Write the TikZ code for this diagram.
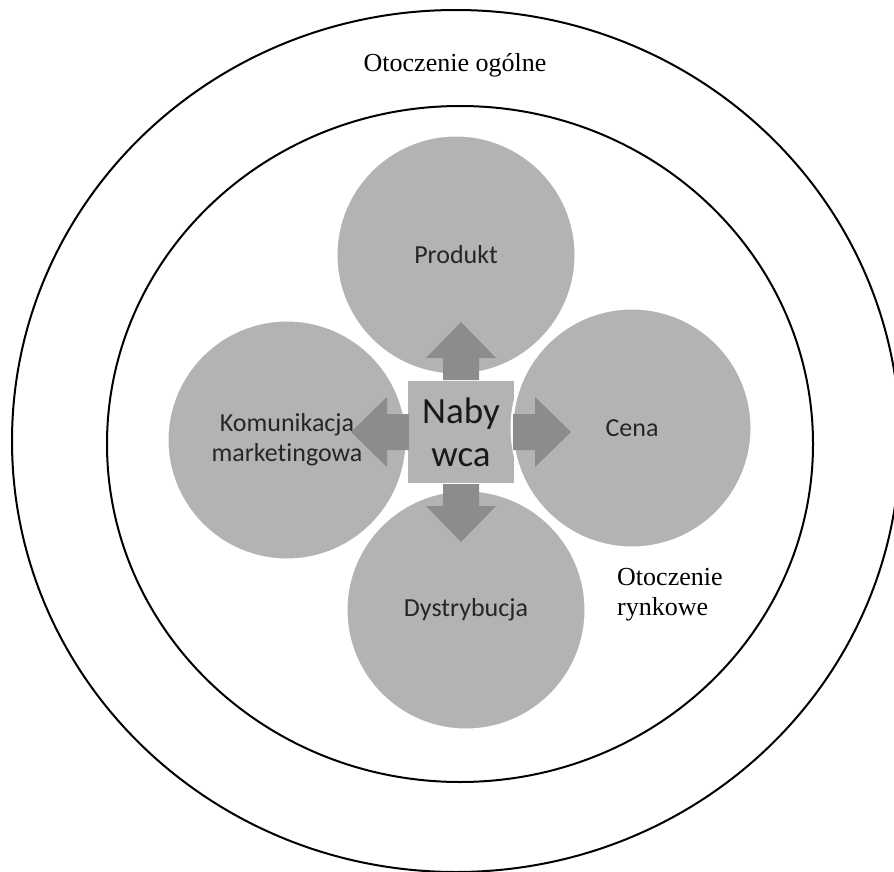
\documentclass[tikz,border=0pt]{standalone}
\usepackage{fontspec}
\setmainfont{Liberation Serif}
\newfontfamily\calibrifont[Ligatures=NoCommon]{Carlito}
\usepackage{xcolor}
\usetikzlibrary{positioning}
\definecolor{mixgray}{RGB}{179,179,179}
\definecolor{arrowgray}{RGB}{140,140,140}
\definecolor{labelgray}{RGB}{38,38,38}
\tikzset{
  ring/.style={draw=black, line width=2pt},
  envlabel/.style={font=\fontsize{26}{30}\selectfont, inner sep=0pt},
  mixcircle/.style={circle, fill=mixgray, draw=white, line width=3pt, minimum size=240pt, inner sep=0pt},
  mixlabel/.style={font=\calibrifont\fontsize{26}{30}\selectfont, text=labelgray, align=center, inner sep=0pt},
  buyerbox/.style={rectangle, fill=mixgray, draw=white, line width=1.5pt, minimum width=107pt, minimum height=104pt, inner sep=0pt,
    font=\calibrifont\fontsize{37}{43}\selectfont, text=black!90, align=center},
  blockarrow/.style={fill=arrowgray}
}
\begin{document}
\begin{tikzpicture}[x=1pt, y=-1pt]
\useasboundingbox (0,0) rectangle (894,872);

% Environments
\draw[ring] (456,441) ellipse [x radius=444, y radius=431];
\draw[ring] (460,444) ellipse [x radius=353, y radius=338];
\node[envlabel, anchor=base] (ogolne) at (455,72) {Otoczenie ogólne};
\node[envlabel, align=left, anchor=north west] (rynkowe) at (617,568) {Otoczenie\\rynkowe};

% Buyer in the middle
\node[buyerbox] (nab) at (461,432) {Naby\\wca};

% Marketing mix circles
\node[mixcircle] (prod) at (456,255) {};
\node[mixcircle] (cena) at (632,428) {};
\node[mixcircle] (dyst) at (466,610) {};
\node[mixcircle] (kom) at (287,440) {};

% Arrows from the buyer
\foreach \ang in {0,90,180,270}
  \fill[blockarrow, shift={(nab.center)}, rotate=\ang]
    (52,-18) -- (74,-18) -- (74,-35) -- (110,0) -- (74,35) -- (74,18) -- (52,18) -- cycle;

% Labels
\node[mixlabel] (prodtext) at (prod.center) {Produkt};
\node[mixlabel] (cenatext) at (cena.center) {Cena};
\node[mixlabel] (dysttext) at (dyst.center) {Dystrybucja};
\node[mixlabel] (komtext) at (kom.center) {Komunikacja\\marketingowa};

\end{tikzpicture}
\end{document}
